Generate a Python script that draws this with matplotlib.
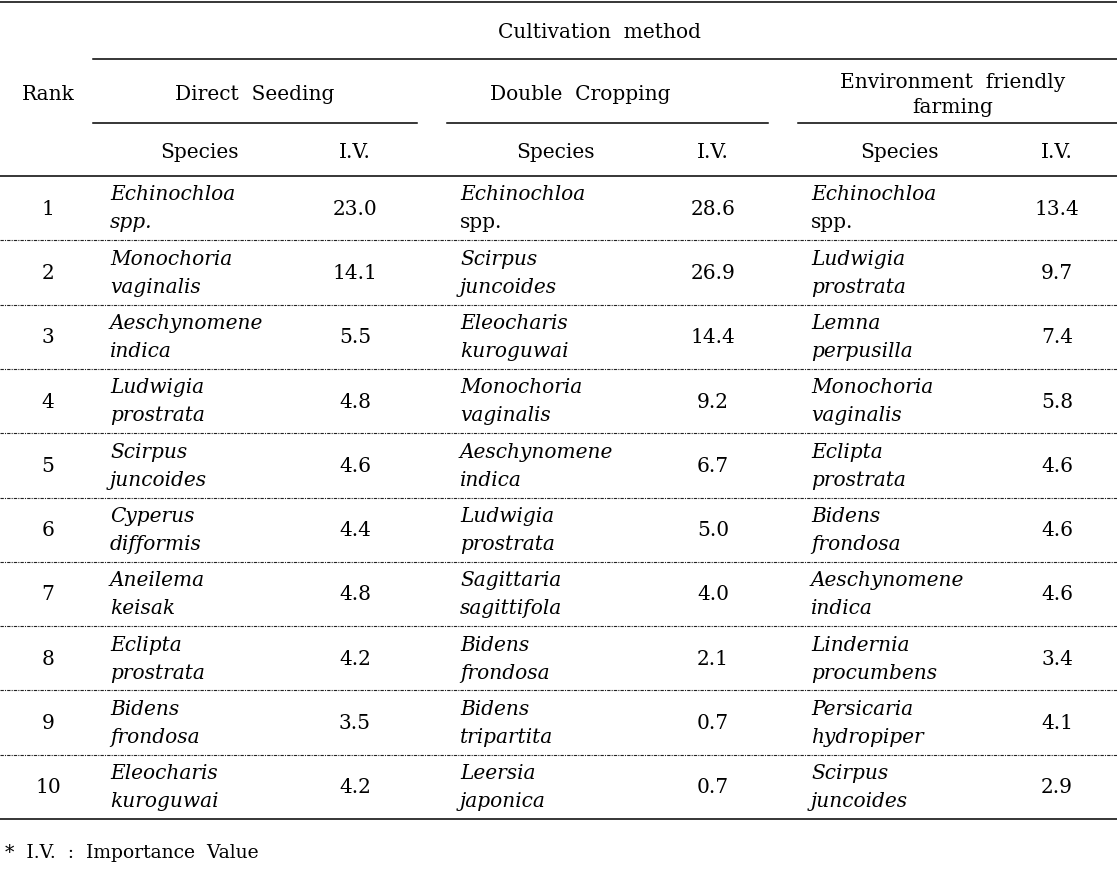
import matplotlib
matplotlib.use('Agg')
import matplotlib.pyplot as plt

plt.rcParams['font.family'] = ['DejaVu Serif']

ranks = ['1', '2', '3', '4', '5', '6', '7', '8', '9', '10']

direct_species = [('Echinochloa', 'spp.'), ('Monochoria', 'vaginalis'), ('Aeschynomene', 'indica'),
                  ('Ludwigia', 'prostrata'), ('Scirpus', 'juncoides'), ('Cyperus', 'difformis'),
                  ('Aneilema', 'keisak'), ('Eclipta', 'prostrata'), ('Bidens', 'frondosa'),
                  ('Eleocharis', 'kuroguwai')]
direct_iv = ['23.0', '14.1', '5.5', '4.8', '4.6', '4.4', '4.8', '4.2', '3.5', '4.2']

double_species = [('Echinochloa', 'spp.'), ('Scirpus', 'juncoides'), ('Eleocharis', 'kuroguwai'),
                  ('Monochoria', 'vaginalis'), ('Aeschynomene', 'indica'), ('Ludwigia', 'prostrata'),
                  ('Sagittaria', 'sagittifola'), ('Bidens', 'frondosa'), ('Bidens', 'tripartita'),
                  ('Leersia', 'japonica')]
double_iv = ['28.6', '26.9', '14.4', '9.2', '6.7', '5.0', '4.0', '2.1', '0.7', '0.7']

env_species = [('Echinochloa', 'spp.'), ('Ludwigia', 'prostrata'), ('Lemna', 'perpusilla'),
               ('Monochoria', 'vaginalis'), ('Eclipta', 'prostrata'), ('Bidens', 'frondosa'),
               ('Aeschynomene', 'indica'), ('Lindernia', 'procumbens'), ('Persicaria', 'hydropiper'),
               ('Scirpus', 'juncoides')]
env_iv = ['13.4', '9.7', '7.4', '5.8', '4.6', '4.6', '4.6', '3.4', '4.1', '2.9']

# which "spp." are upright in the source (columns 2 and 3)
upright_spp = [False, True, True]

groups = ['Direct  Seeding', 'Double  Cropping', 'Environment  friendly\nfarming']
columns = [(direct_species, direct_iv), (double_species, double_iv), (env_species, env_iv)]

W, H = 1117, 870
fig = plt.figure(figsize=(W / 100, H / 100), dpi=100)
ax = fig.add_axes([0, 0, 1, 1])
ax.set_xlim(0, W)
ax.set_ylim(H, 0)
ax.axis('off')

fs = 14.5
lw = 1.1

# layout
species_x = [110, 460, 811]
species_hx = [200, 555, 900]
iv_x = [355, 713, 1057]
group_x = [255, 580, 953]
group_lines = [(93, 417), (447, 768), (798, 1117)]
row_top = 177
row_h = 64.3

# horizontal rules
ax.plot([0, W], [3, 3], color='black', lw=lw)
ax.plot([93, W], [60, 60], color='black', lw=lw)
for x0, x1 in group_lines:
    ax.plot([x0, x1], [124, 124], color='black', lw=lw)
ax.plot([0, W], [row_top, row_top], color='black', lw=lw)
ax.plot([0, W], [row_top + 10 * row_h, row_top + 10 * row_h], color='black', lw=lw)
for i in range(1, 10):
    y = row_top + i * row_h
    ax.plot([0, W], [y, y], color='#222222', lw=0.8, ls=(0, (3, 1, 1, 1)))

# headers
ax.text(600, 32, 'Cultivation  method', ha='center', va='center', fontsize=fs)
ax.text(48, 95, 'Rank', ha='center', va='center', fontsize=fs)
for g, gx in zip(groups, group_x):
    ax.text(gx, 95, g, ha='center', va='center', fontsize=fs, linespacing=1.35)
for k in range(3):
    ax.text(species_hx[k], 153, 'Species', ha='center', va='center', fontsize=fs)
    ax.text(iv_x[k], 153, 'I.V.', ha='center', va='center', fontsize=fs)

# body
for i, r in enumerate(ranks):
    top = row_top + i * row_h
    mid = top + row_h / 2
    ax.text(48, mid, r, ha='center', va='center', fontsize=fs)
    for k, (sp, iv) in enumerate(columns):
        genus, epithet = sp[i]
        ax.text(species_x[k], top + 18, genus, ha='left', va='center', fontsize=fs, style='italic')
        st = 'normal' if (epithet == 'spp.' and upright_spp[k]) else 'italic'
        ax.text(species_x[k], top + 46, epithet, ha='left', va='center', fontsize=fs, style=st)
        ax.text(iv_x[k], mid, iv[i], ha='center', va='center', fontsize=fs)

ax.text(5, 853, '*  I.V.  :  Importance  Value', ha='left', va='center', fontsize=13.5)

fig.savefig('out.png', dpi=100)
